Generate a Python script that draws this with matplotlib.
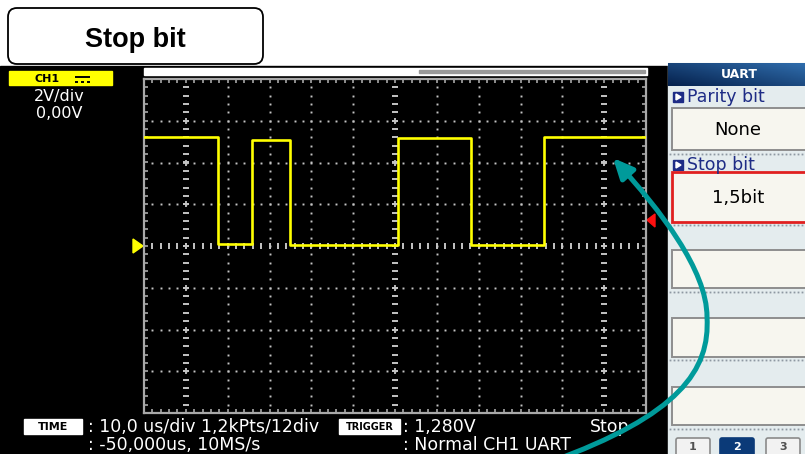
import numpy as np
import matplotlib
matplotlib.use("Agg")
import matplotlib.pyplot as plt
from matplotlib.patches import Rectangle, FancyBboxPatch, Polygon, FancyArrowPatch
from matplotlib.path import Path

W, H = 805, 454

# ── Scope data (CH1, UART frame) ─────────────────────────────────────────── #
EDGE_T_US = [0.0, 17.7, 25.8, 34.9, 60.8, 78.2, 95.5, 120.0]
LEVEL_V   = [5.20, 0.10, 5.10, 0.05, 5.15, 0.05, 5.20]
TRIG_V    = 1.28
TRIG_T_US = 110.0
VDIV, TDIV = 2.0, 10.0          # 2V/div, 10 us/div
NDIV_X, NDIV_Y = 12, 8

CH_LABELS   = ["2V/div", "0,00V"]
TIME_LINES  = [": 10,0 us/div 1,2kPts/12div", ": -50,000us, 10MS/s"]
TRIG_LINES  = [": 1,280V", ": Normal CH1 UART"]
MENU_TITLE  = "UART"
MENU_ITEMS  = [("Parity bit", "None"), ("Stop bit", "1,5bit")]
PAGE_BTNS   = ["1", "2", "3"]

GRID_C = "#C4C4C4"
YEL = "#FFFF00"
NAVY = "#1E2C86"

fig = plt.figure(figsize=(W / 100, H / 100), dpi=100)
fig.patch.set_facecolor("white")

# ── background (pixel coordinates) ───────────────────────────────────────── #
bg = fig.add_axes([0, 0, 1, 1])
bg.set_xlim(0, W); bg.set_ylim(H, 0); bg.axis("off")


def rect(ax, x, y, w, h, **kw):
    ax.add_patch(Rectangle((x, y), w, h, **kw))


def txt(ax, x, y, s, **kw):
    kw.setdefault("va", "center")
    ax.text(x, y, s, **kw)


rect(bg, 0, 66, 668, H - 66, color="black")

# title box
bg.add_patch(FancyBboxPatch((8, 8), 255, 56, boxstyle="round,pad=0,rounding_size=9",
                            fc="white", ec="black", lw=1.3, zorder=3))
txt(bg, 135, 40, "Stop bit", ha="center", fontsize=19.5, fontweight="bold",
    family="Liberation Sans", zorder=4)

# CH1 label
rect(bg, 9, 71, 103, 14, color=YEL)
txt(bg, 47, 78.5, "CH1", ha="center", fontsize=8, fontweight="bold", color="black")
bg.plot([75, 90], [77, 77], color="black", lw=1.4, solid_capstyle="butt")
for x0 in (75, 81, 87):
    bg.plot([x0, x0 + 3], [81.5, 81.5], color="black", lw=1.4, solid_capstyle="butt")
txt(bg, 59, 97, CH_LABELS[0], ha="center", fontsize=11.5, color="white")
txt(bg, 59, 113, CH_LABELS[1], ha="center", fontsize=11.5, color="white")

# memory bar
rect(bg, 144, 68, 503, 7, color="white")
rect(bg, 419, 70, 226, 3, color="#9A9A9A")

# markers
bg.add_patch(Polygon([(133, 239), (133, 253), (143, 246)], color=YEL))
bg.add_patch(Polygon([(597, 79), (611, 79), (604, 86)], color="#FF7FFF", zorder=5))
bg.add_patch(Polygon([(647, 220), (655, 214), (655, 227)], color="#FF1010", zorder=5))

# bottom status lines
rect(bg, 24, 419, 58, 15, color="white")
txt(bg, 53, 427, "TIME", ha="center", fontsize=8, fontweight="bold", color="black")
rect(bg, 339, 419, 61, 15, color="white")
txt(bg, 369.5, 427, "TRIGGER", ha="center", fontsize=7, fontweight="bold", color="black")
txt(bg, 88, 427, TIME_LINES[0], fontsize=12.5, color="white")
txt(bg, 88, 445, TIME_LINES[1], fontsize=12.5, color="white")
txt(bg, 403, 427, TRIG_LINES[0], fontsize=12.5, color="white")
txt(bg, 403, 445, TRIG_LINES[1], fontsize=12.5, color="white")
txt(bg, 590, 427, "Stop", fontsize=12.5, color="white")

# ── right menu panel ─────────────────────────────────────────────────────── #
rect(bg, 668, 63, W - 668, H - 63, color="#E4ECEE")
gx = np.linspace(0, 1, 60)
gy = np.linspace(0, 1, 12)
grad = 0.55 * gx[None, :] + 0.45 * (1 - gy[:, None])
bg.imshow(grad, cmap=matplotlib.colors.LinearSegmentedColormap.from_list(
    "hdr", ["#06224E", "#2F6CAB"]), extent=(668, W, 86, 63), aspect="auto", zorder=2)
txt(bg, 739, 75, MENU_TITLE, ha="center", fontsize=9, fontweight="bold",
    color="white", zorder=3)


def dots(y):
    xs = np.arange(670, W, 4)
    bg.plot(xs, np.full_like(xs, y, dtype=float), ls="none", marker="s",
            ms=1.3, mew=0, color="#8E98A2")


def icon(y):
    rect(bg, 673, y - 5, 10, 10, color=NAVY, zorder=3)
    bg.add_patch(Polygon([(676, y - 3), (676, y + 3), (681, y)], color="white", zorder=4))


def box(y0, y1, ec="#8E8E8E", lw=1.4):
    rect(bg, 672, y0, W - 672 + 2, y1 - y0, fc="#F7F6EF", ec=ec, lw=lw, zorder=3)


label_y = [97, 165]
box_y = [(108, 150), (172, 222)]
for (lab, val), ly, (b0, b1), ec in zip(MENU_ITEMS, label_y, box_y, ["#8E8E8E", "#E02020"]):
    icon(ly)
    txt(bg, 687, ly, lab, fontsize=12.5, color=NAVY, zorder=4)
    box(b0, b1, ec=ec, lw=1.4 if ec != "#E02020" else 2.0)
    txt(bg, 738, (b0 + b1) / 2 + 1, val, ha="center", fontsize=13, color="black", zorder=4)
dots(154); dots(225)
for b0, b1, d in [(250, 288, 292), (318, 357, 360), (387, 425, 429)]:
    box(b0, b1)
    dots(d)

for lab, x0 in zip(PAGE_BTNS, [676, 720, 766]):
    dark = lab == "2"
    bg.add_patch(FancyBboxPatch((x0, 438), 34, 18, boxstyle="round,pad=0,rounding_size=2",
                                fc="#0B3A78" if dark else "#F2F2F2",
                                ec="#0B3A78" if dark else "#8A8A8A", lw=1.2, zorder=3))
    txt(bg, x0 + 17, 447, lab, ha="center", fontsize=8, fontweight="bold",
        color="white" if dark else "#505050", zorder=4)

# ── scope screen ─────────────────────────────────────────────────────────── #
sc = fig.add_axes([144 / W, (H - 413) / H, (646 - 144) / W, (413 - 79) / H])
sc.set_facecolor("black")
xmax, ymax = NDIV_X * TDIV, NDIV_Y * VDIV / 2
sc.set_xlim(0, xmax); sc.set_ylim(-ymax, ymax)
for s in sc.spines.values():
    s.set_color("#A8A8A8"); s.set_linewidth(1.6)
sc.set_xticks(np.arange(0, xmax + 0.1, TDIV / 5))
sc.set_yticks(np.arange(-ymax, ymax + 0.01, VDIV / 5))
sc.tick_params(direction="in", length=3, width=1.2, color="#A8A8A8",
               top=True, right=True, labelbottom=False, labelleft=False)

ysub = np.arange(-ymax + VDIV / 5, ymax, VDIV / 5)
xsub = np.arange(TDIV / 5, xmax, TDIV / 5)
dashed_x = [TDIV, xmax / 2, xmax - TDIV]
for k in range(1, NDIV_X):
    x = k * TDIV
    if x in dashed_x:
        sc.plot(np.full_like(ysub, x), ysub, ls="none", marker="_", ms=4.5,
                mew=1.4, color=GRID_C)
    else:
        sc.plot(np.full_like(ysub, x), ysub, ls="none", marker="s", ms=1.4,
                mew=0, color=GRID_C)
for k in range(1, NDIV_Y):
    y = -ymax + k * VDIV
    if abs(y) < 1e-9:
        sc.plot(xsub, np.zeros_like(xsub), ls="none", marker="|", ms=4.5,
                mew=1.4, color=GRID_C)
    else:
        sc.plot(xsub, np.full_like(xsub, y), ls="none", marker="s", ms=1.4,
                mew=0, color=GRID_C)
    sc.plot(dashed_x, [y] * 3, ls="none", marker="+", ms=5, mew=1.3, color=GRID_C)

sc.step(EDGE_T_US, LEVEL_V + [LEVEL_V[-1]], where="post", color=YEL, lw=1.9, zorder=5)

# ── annotation arrow ─────────────────────────────────────────────────────── #
ov = fig.add_axes([0, 0, 1, 1], zorder=10)
ov.set_xlim(0, W); ov.set_ylim(H, 0); ov.axis("off"); ov.patch.set_alpha(0)
verts = [(550, 462), (680, 415), (710, 370), (707, 317),
         (707, 270), (660, 210), (613, 158)]
codes = [Path.MOVETO] + [Path.CURVE4] * 6
ov.add_patch(FancyArrowPatch(path=Path(verts, codes), arrowstyle="-|>,head_length=12,head_width=5.5",
                             mutation_scale=1, shrinkA=0, shrinkB=0, lw=3.6,
                             color="#009A9A", transform=ov.transData))

fig.savefig("out.png", dpi=100)
